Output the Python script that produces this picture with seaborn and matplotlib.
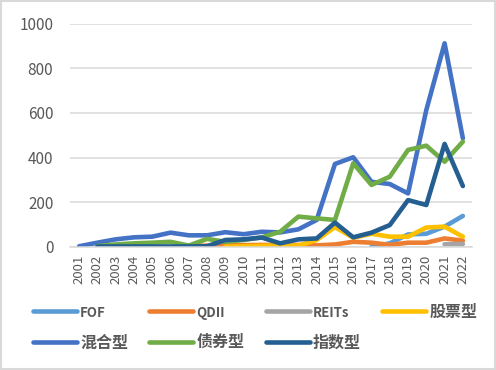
import numpy as np
import pandas as pd
import matplotlib.pyplot as plt
import matplotlib.patches as patches
import seaborn as sns

# data (NaN = series not yet present)
years = list(range(2001, 2023))
nan = np.nan
fof = [nan] * 16 + [0, 15, 55, 58, 90, 138]
qdii = [nan] * 6 + [3, 5, 6, 7, 8, 8, 8, 6, 10, 22, 18, 8, 18, 18, 37, 27]
reits = [nan] * 20 + [11, 12]
stock = [nan] * 8 + [0, 2, 4, 5, 5, 30, 88, 40, 58, 45, 45, 86, 90, 45]
mixed = [2, 18, 33, 42, 45, 63, 51, 51, 65, 56, 67, 64, 78, 120,
         371, 401, 291, 281, 239, 613, 912, 486]
bond = [nan, 3, 10, 15, 18, 22, 5, 35, 22, 30, 42, 67, 135, 127,
        120, 374, 277, 314, 434, 453, 381, 471]
index = [nan, 1, 1, 1, 1, 1, 1, 2, 30, 33, 41, 15, 33, 37,
         108, 42, 63, 97, 209, 187, 461, 272]

names = ['FOF', 'QDII', 'REITs', '股票型', '混合型', '债券型', '指数型']
colors = ['#5B9BD5', '#ED7D31', '#A5A5A5', '#FFC000', '#4472C4', '#70AD47', '#255E91']

series = [fof, qdii, reits, stock, mixed, bond, index]
df = pd.concat([pd.DataFrame({'year': years, 'value': v, 'type': n})
                for n, v in zip(names, series)], ignore_index=True)
df = df.dropna()

sns.set_style('white')
plt.rcParams['font.family'] = ['Noto Sans CJK SC', 'DejaVu Sans']

fig = plt.figure(figsize=(4.96, 3.70), dpi=100)
ax = fig.add_axes([70 / 496, 1 - 246.7 / 370, 402 / 496, 223 / 370])

sns.lineplot(data=df, x='year', y='value', hue='type', hue_order=names,
             palette=colors, linewidth=3.3, ax=ax, legend=True)
for line in ax.get_lines():
    line.set_solid_capstyle('round')
    line.set_solid_joinstyle('round')

ax.set_xlim(2000.5, 2022.5)
ax.set_ylim(0, 1000)
ax.set_yticks(range(0, 1001, 200))
ax.set_xticks(years)
ax.set_xticklabels([str(y) for y in years], rotation=90)
ax.tick_params(axis='y', labelsize=11, labelcolor='#595959', length=0, pad=12)
ax.tick_params(axis='x', labelsize=9.5, labelcolor='#595959', length=0, pad=6)
ax.yaxis.grid(True, color='#D9D9D9', linewidth=1.1)
ax.set_axisbelow(True)
for s in ['top', 'right', 'left']:
    ax.spines[s].set_visible(False)
ax.spines['bottom'].set_color('#D9D9D9')
ax.spines['bottom'].set_linewidth(1.1)
ax.set_xlabel('')
ax.set_ylabel('')

handles, labels = ax.get_legend_handles_labels()
ax.get_legend().remove()
# matplotlib fills legend columns first; reorder so rows read left to right
order = [0, 4, 1, 5, 2, 6, 3]
leg = fig.legend([handles[i] for i in order], [labels[i] for i in order],
                 ncol=4, loc='upper left',
                 bbox_to_anchor=(33 / 496, 1 - 304 / 370),
                 frameon=False, fontsize=11.5, handlelength=2.75,
                 handletextpad=0.2, columnspacing=1.33, labelspacing=0.9,
                 borderpad=0, borderaxespad=0)
for t in leg.get_texts():
    t.set_color('#595959')
    t.set_fontweight('bold')
    if t.get_text().isascii():
        t.set_fontsize(9.5)
for h in leg.legend_handles:
    h.set_linewidth(3.3)
    h.set_solid_capstyle('round')

fig.patches.append(patches.Rectangle((0.002, 0.003), 0.996, 0.994,
                                     transform=fig.transFigure, fill=False,
                                     edgecolor='#D9D9D9', linewidth=1.5))

fig.savefig('out.png', dpi=100)
